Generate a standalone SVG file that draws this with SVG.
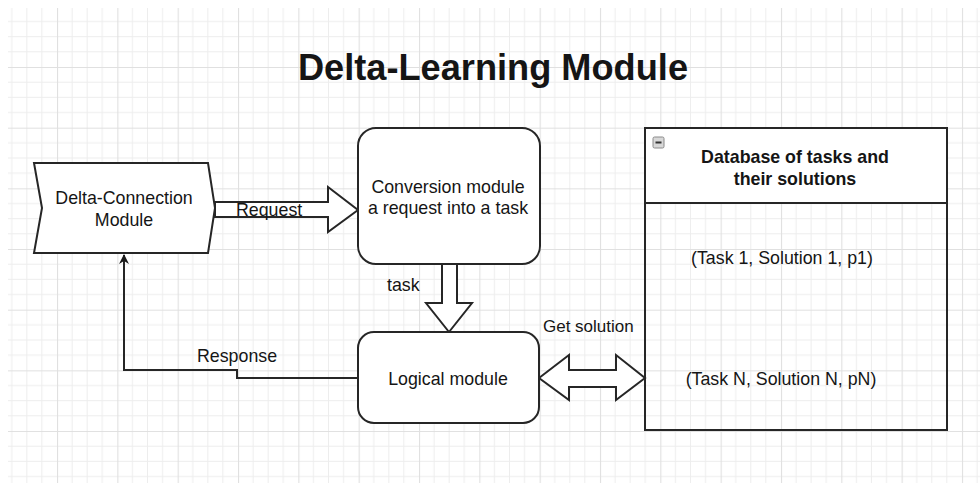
<svg xmlns="http://www.w3.org/2000/svg" width="980" height="483" viewBox="0 0 980 483">
  <defs>
    <pattern id="grid" patternUnits="userSpaceOnUse" x="57" y="67" width="60.33" height="60.67">
      <path d="M15.08 0V60.67M30.17 0V60.67M45.25 0V60.67M0 15.17H60.33M0 30.33H60.33M0 45.5H60.33" stroke="#ededed" stroke-width="1" fill="none"/>
      <path d="M0.5 0V60.67M0 0.5H60.33" stroke="#e0e0e0" stroke-width="1.2" fill="none"/>
    </pattern>
    <marker id="arr" viewBox="0 0 10 10" refX="9" refY="5" markerWidth="10" markerHeight="10" markerUnits="userSpaceOnUse" orient="auto">
      <path d="M0,0 L10,5 L0,10 L3,5 Z" fill="#1a1a1a"/>
    </marker>
    <style>
      .shape { fill: #ffffff; stroke: #262626; stroke-width: 2; }
      .line { fill: none; stroke: #262626; stroke-width: 2; }
      .t { font-family: "Liberation Sans", Arial, sans-serif; font-size: 17.8px; fill: #151515; }
      .c { text-anchor: middle; }
      .b { font-weight: bold; }
    </style>
  </defs>

  <rect x="0" y="0" width="980" height="483" fill="#ffffff"/>
  <rect x="8" y="8" width="972" height="475" fill="url(#grid)"/>

  <text id="title" class="t c b" x="493" y="80" style="font-size:36.2px">Delta-Learning Module</text>

  <g id="connectors">
    <path class="line" d="M358,378 H237 V370 H124 V255" marker-end="url(#arr)"/>
    <text class="t" x="197" y="362">Response</text>

    <path class="shape" d="M215,202 H328 V187 L358,210 L328,232 V217 H215 Z"/>
    <text class="t" x="236" y="216">Request</text>

    <path class="shape" d="M442,264 V303 H426 L449,332 L472,303 H457 V264 Z"/>
    <text class="t" x="387" y="291">task</text>

    <path class="shape" d="M539,378 L569,355 V370 H616 V355 L645,378 L616,400 V387 H569 V400 Z"/>
    <text class="t" x="543" y="332" style="font-size:17px">Get solution</text>
  </g>

  <g id="delta-connection">
    <path class="shape" d="M34,163 H208 L215,208 L208,253 H34 L42,208 Z"/>
    <text class="t c" x="124" y="204">Delta-Connection</text>
    <text class="t c" x="124" y="226">Module</text>
  </g>

  <g id="conversion">
    <rect class="shape" x="358" y="128" width="182" height="136" rx="18" ry="18"/>
    <text class="t c" x="448" y="193">Conversion module</text>
    <text class="t c" x="448" y="214">a request into a task</text>
  </g>

  <g id="logical">
    <rect class="shape" x="358" y="332" width="181" height="91" rx="16" ry="16"/>
    <text class="t c" x="448" y="385">Logical module</text>
  </g>

  <g id="database">
    <rect x="645" y="128" width="302" height="302" fill="none" stroke="#262626" stroke-width="2"/>
    <rect x="645" y="128" width="302" height="75" fill="#ffffff" stroke="#262626" stroke-width="2"/>
    <rect x="653" y="137" width="11" height="11" rx="1.5" fill="#d8d8d8" stroke="#8a8a8a" stroke-width="1"/>
    <rect x="655.5" y="141.5" width="6" height="2" fill="#333"/>
    <text class="t c b" x="795" y="163">Database of tasks and</text>
    <text class="t c b" x="795" y="185">their solutions</text>
    <text class="t c" x="782" y="264">(Task 1, Solution 1, p1)</text>
    <text class="t c" x="781" y="385">(Task N, Solution N, pN)</text>
  </g>
</svg>
